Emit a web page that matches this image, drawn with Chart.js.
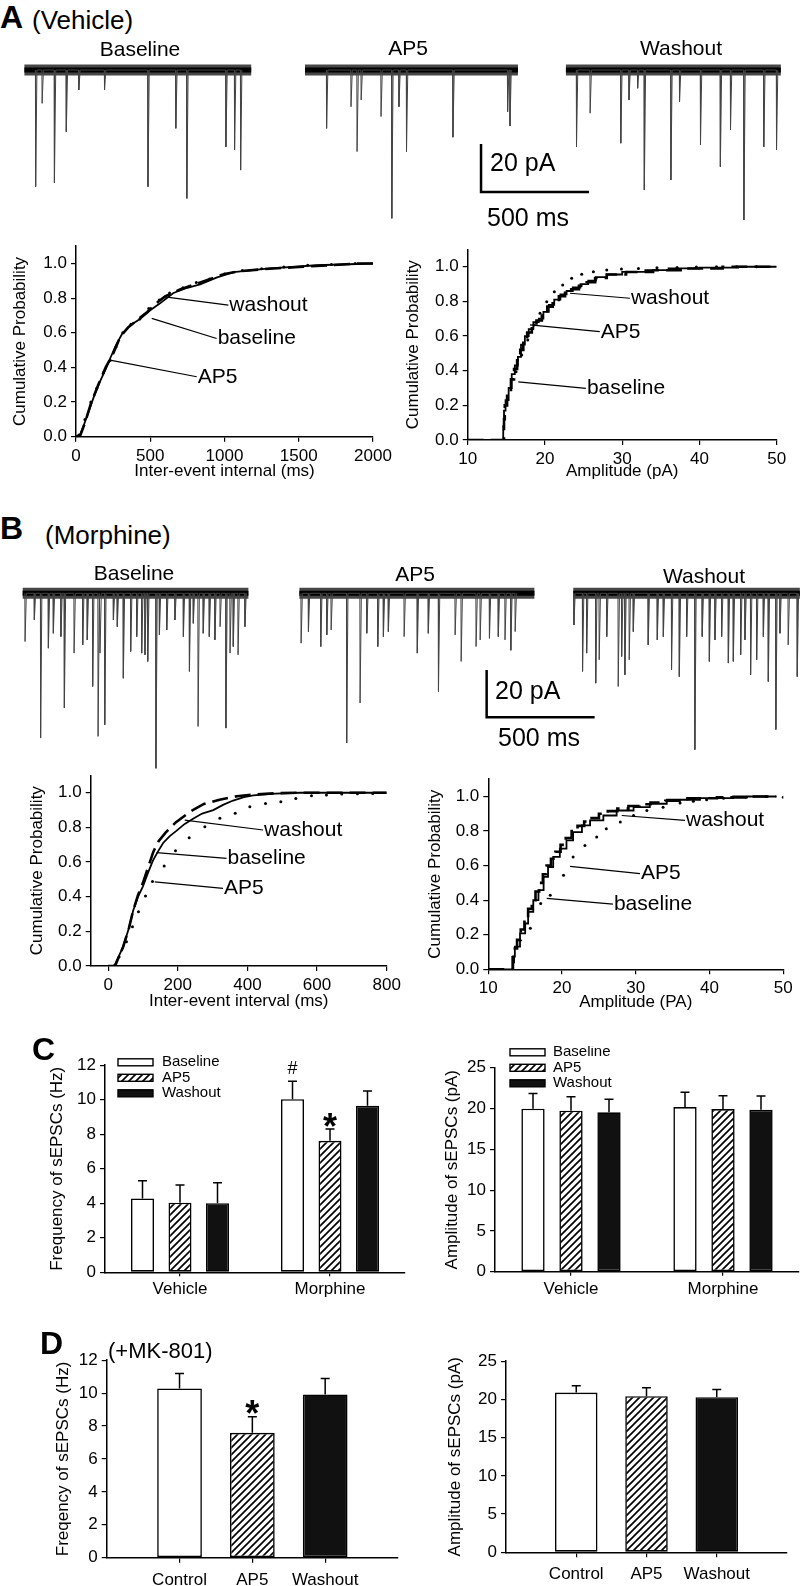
<!DOCTYPE html>
<html>
<head>
<meta charset="utf-8">
<script src="https://cdn.jsdelivr.net/npm/chart.js@4.4.1/dist/chart.umd.min.js"></script>
<style>
  html, body { margin: 0; padding: 0; background: #fff; }
  body { position: relative; width: 800px; height: 1586px; overflow: hidden;
         font-family: 'Liberation Sans', Arial, Helvetica, sans-serif; color: #000; }
  canvas { position: absolute; }
  .t { position: absolute; white-space: nowrap; line-height: 1; }
</style>
</head>
<body>
<canvas id="traceA"></canvas>
<canvas id="cumA1"></canvas>
<canvas id="cumA2"></canvas>
<canvas id="traceB"></canvas>
<canvas id="cumB1"></canvas>
<canvas id="cumB2"></canvas>
<canvas id="barC1"></canvas>
<canvas id="barC2"></canvas>
<canvas id="barD1"></canvas>
<canvas id="barD2"></canvas>
<script>
// ---------- data ----------

// sample sweeps: event time in the sweep (ms), amplitude (pA)
const sweepLabels = ['Baseline', 'AP5', 'Washout'];
const vehSweepMs = [1050, 986, 995];
const vehBaselineEvents = [[52, 48.6], [82, 13.9], [139, 47], [194, 25.7], [252, 8.3], [371, 8.3], [572, 48.6],
  [701, 24.3], [752, 53.5], [933, 32], [973, 33.3], [1001, 41.7]];
const vehAp5Events = [[100, 24.3], [213, 15.3], [241, 34], [260, 12.5], [352, 19.4], [402, 61.8], [435, 15.3],
  [470, 34], [685, 28], [938, 17.4], [949, 23.3]];
const vehWashEvents = [[49, 32], [112, 18], [254, 30.5], [292, 12.5], [332, 7.6], [363, 50], [486, 45.8],
  [526, 13.2], [623, 31.2], [715, 40.3], [762, 25], [824, 62.5], [916, 32], [975, 33.3]];

const morSweepMs = [1045, 1088, 1049];
const morBaselineEvents = [[11, 20.4], [54, 11.3], [83, 61.2], [119, 23.2], [142, 16.9], [177, 18.3], [193, 48.5],
  [238, 25.3], [278, 21.8], [299, 19.7], [324, 39.4], [349, 60.5], [358, 25.3], [380, 55.6], [420, 11.3],
  [438, 14.1], [466, 35.9], [500, 24.6], [528, 18.3], [551, 25.3], [566, 26], [579, 28.8], [617, 74],
  [633, 17.6], [667, 15.5], [705, 11.3], [744, 18.3], [772, 33], [790, 12.7], [812, 56.3], [836, 16.9],
  [864, 18.3], [890, 19.7], [914, 14.1], [941, 57], [960, 25.3], [975, 22.5], [997, 26], [1029, 14.1]];
const morAp5Events = [[8, 21.1], [42, 16.2], [99, 22.5], [127, 17.6], [147, 15.5], [219, 63.3], [281, 46.4],
  [312, 16.9], [363, 22.5], [389, 18.3], [412, 16.2], [485, 18.3], [546, 25.3], [597, 16.9], [644, 41.5],
  [721, 17.6], [749, 28.8], [818, 22.5], [837, 19.7], [880, 19], [921, 18.3], [952, 19.7], [979, 24.1], [999, 16.2]];
const morWashEvents = [[3, 13.4], [43, 33], [62, 25.3], [104, 38], [120, 28.1], [155, 18.3], [208, 39.4],
  [224, 26.7], [239, 34.5], [259, 28.1], [278, 16.2], [347, 21.8], [389, 19.7], [417, 18.3], [455, 32.3],
  [491, 35.2], [525, 18.3], [563, 66.1], [597, 18.3], [630, 28.8], [656, 19.7], [687, 18.3], [718, 29.5],
  [741, 28.8], [775, 26], [795, 19.7], [821, 34.5], [849, 28.1], [880, 18.3], [903, 37.3], [938, 57.6],
  [957, 16.9], [995, 21.8], [1037, 35.2]];

const scaleBarPA = 20;
const scaleBarMs = 500;

// cumulative distributions [x, probability]
const vehIntervalBaseline = [[0, 0], [25, 0], [27, 0.01], [50, 0.06], [83, 0.14], [120, 0.23], [162, 0.32],
  [200, 0.39], [229, 0.45], [270, 0.53], [308, 0.59], [360, 0.64], [431, 0.68], [500, 0.73], [566, 0.77],
  [656, 0.83], [750, 0.86], [836, 0.88], [950, 0.92], [1061, 0.95], [1285, 0.97], [1622, 0.99], [2000, 1.0]];
const vehIntervalAp5 = [[20, 0.01], [60, 0.1], [100, 0.2], [140, 0.28], [185, 0.37], [230, 0.44], [270, 0.52],
  [315, 0.6], [370, 0.65], [430, 0.68], [490, 0.74], [560, 0.79], [630, 0.83], [720, 0.86], [810, 0.89],
  [900, 0.91], [1000, 0.94], [1120, 0.96], [1250, 0.97], [1400, 0.98], [1560, 0.99], [1720, 0.995], [1880, 1.0]];
const vehIntervalWash = [[0, 0], [30, 0.01], [60, 0.08], [100, 0.19], [150, 0.3], [200, 0.4], [250, 0.48],
  [300, 0.58], [350, 0.63], [420, 0.68], [480, 0.72], [540, 0.77], [600, 0.81], [700, 0.85], [800, 0.88],
  [900, 0.91], [1000, 0.94], [1100, 0.955], [1300, 0.97], [1500, 0.98], [1700, 0.99], [1900, 1.0], [2000, 1.0]];

const vehAmpBaseline = [[10, 0], [14.6, 0], [14.7, 0.08], [14.9, 0.17], [15.3, 0.23], [15.7, 0.3], [16.1, 0.38],
  [16.5, 0.43], [16.9, 0.48], [17.4, 0.55], [17.9, 0.6], [18.5, 0.64], [19.2, 0.68], [19.8, 0.7], [20.5, 0.74],
  [21.2, 0.78], [22, 0.81], [22.8, 0.84], [23.6, 0.86], [24.6, 0.88], [25.6, 0.9], [26.6, 0.92], [28, 0.94],
  [30, 0.955], [33, 0.97], [36, 0.98], [40, 0.99], [45, 0.995], [50, 1.0]];
const vehAmpAp5 = [[16.26, 0.394], [16.99, 0.49], [17.77, 0.577], [18.59, 0.663], [19.36, 0.731], [20.23, 0.798],
  [21.22, 0.856], [22.3, 0.894], [23.46, 0.933], [24.76, 0.956], [26.27, 0.971], [28, 0.981], [29.9, 0.987],
  [32.1, 0.99], [34.5, 0.994], [37.1, 0.996], [39.6, 0.998], [42.2, 1.0], [44.8, 1.0], [47.4, 1.0]];
const vehAmpWash = [[10, 0], [14.7, 0], [14.8, 0.12], [15.1, 0.2], [15.6, 0.28], [16, 0.35], [16.4, 0.41],
  [16.8, 0.46], [17.2, 0.52], [17.7, 0.58], [18.3, 0.62], [18.9, 0.66], [19.6, 0.69], [20.3, 0.73], [21, 0.77],
  [21.8, 0.8], [22.6, 0.83], [23.4, 0.85], [24.4, 0.87], [25.4, 0.89], [26.5, 0.91], [28, 0.935], [30.5, 0.955],
  [34, 0.97], [38, 0.98], [43, 0.99], [50, 1.0]];

const morIntervalBaseline = [[0, 0], [15, 0], [20, 0.01], [43, 0.11], [60, 0.22], [72, 0.32], [86, 0.4],
  [100, 0.46], [115, 0.54], [129, 0.61], [143, 0.66], [158, 0.71], [177, 0.75], [196, 0.78], [220, 0.82],
  [244, 0.85], [270, 0.88], [302, 0.9], [330, 0.93], [359, 0.955], [390, 0.975], [417, 0.985], [480, 0.995],
  [551, 1.0], [800, 1.0]];
const morIntervalAp5 = [[31.6, 0.054], [52.7, 0.14], [69.9, 0.227], [87.2, 0.313], [107.3, 0.404], [127.4, 0.487],
  [161, 0.577], [193.5, 0.665], [232.8, 0.74], [277.8, 0.804], [321, 0.852], [365, 0.881], [407, 0.919],
  [452, 0.938], [496, 0.948], [539, 0.967], [584, 0.983], [627, 0.987], [671, 0.992], [716, 0.994], [760, 0.996]];
const morIntervalWash = [[0, 0], [18, 0], [22, 0.01], [43, 0.11], [60, 0.22], [72, 0.32], [86, 0.41],
  [100, 0.48], [115, 0.57], [130, 0.66], [145, 0.72], [165, 0.77], [195, 0.83], [235, 0.89], [275, 0.935],
  [320, 0.96], [370, 0.98], [420, 0.99], [480, 0.997], [550, 1.0], [800, 1.0]];

const morAmpBaseline = [[10, 0], [13.4, 0], [13.5, 0.04], [13.6, 0.073], [14.3, 0.131], [15, 0.208], [15.4, 0.265],
  [16.1, 0.333], [16.8, 0.4], [17.5, 0.458], [18.1, 0.535], [18.8, 0.592], [19.7, 0.65], [20.6, 0.698],
  [21.5, 0.746], [22.7, 0.794], [23.8, 0.833], [25.6, 0.862], [27.4, 0.89], [29.7, 0.919], [31.9, 0.938],
  [34.2, 0.958], [38.7, 0.981], [43.2, 0.99], [49.1, 1.0]];
const morAmpAp5 = [[15.7, 0.237], [17.1, 0.381], [18.4, 0.429], [20.2, 0.544], [21.5, 0.65], [23.1, 0.717],
  [24.7, 0.765], [26, 0.813], [27.9, 0.852], [29.7, 0.89], [31.5, 0.919], [33.7, 0.938], [36, 0.962],
  [37.8, 0.973], [39.6, 0.981], [41.9, 0.99], [45, 0.996], [47.7, 1.0], [50, 0.996]];
const morAmpWash = [[10, 0], [13.3, 0], [13.4, 0.07], [13.9, 0.12], [14.4, 0.17], [14.9, 0.23], [15.4, 0.29],
  [15.9, 0.35], [16.4, 0.4], [16.9, 0.45], [17.4, 0.5], [17.9, 0.55], [18.5, 0.6], [19.1, 0.64], [19.8, 0.68],
  [20.5, 0.72], [21.3, 0.76], [22.1, 0.8], [23, 0.83], [24, 0.855], [25, 0.875], [26.2, 0.9], [27.5, 0.915],
  [29, 0.93], [30.5, 0.945], [32, 0.955], [34, 0.965], [37, 0.975], [41, 0.99], [45, 0.995], [49, 1.0]];

const probTicks = [0, 0.2, 0.4, 0.6, 0.8, 1.0];
const vehIntervalTicks = [0, 500, 1000, 1500, 2000];
const morIntervalTicks = [0, 200, 400, 600, 800];
const ampTicks = [10, 20, 30, 40, 50];

// bar graphs: means and SEM (upper bar only)
const groupLabels = ['Vehicle', 'Morphine'];
const freqBaseline = [4.28, 10.03];
const freqBaselineErr = [1.03, 1.04];
const freqAp5 = [4.03, 7.62];
const freqAp5Err = [1.03, 0.68];
const freqWash = [4.0, 9.65];
const freqWashErr = [1.19, 0.86];
const ampBaseline = [19.98, 20.18];
const ampBaselineErr = [1.87, 1.8];
const ampAp5 = [19.73, 19.93];
const ampAp5Err = [1.72, 1.64];
const ampWash = [19.53, 19.85];
const ampWashErr = [1.59, 1.68];

const mkLabels = ['Control', 'AP5', 'Washout'];
const mkFreq = [10.28, 7.59, 9.92];
const mkFreqErr = [0.91, 0.97, 0.97];
const mkAmp = [20.9, 20.43, 20.3];
const mkAmpErr = [0.88, 1.09, 1.0];

// ---------- setup ----------
const FONT = "'Liberation Sans', Arial, Helvetica, sans-serif";
Chart.defaults.font.family = FONT;
Chart.defaults.color = '#000';
Chart.defaults.animation = false;
Chart.defaults.responsive = false;
Chart.defaults.events = [];
Chart.defaults.plugins.legend.display = false;
Chart.defaults.plugins.tooltip.enabled = false;

const texts = [
  ['A', 0, 16.5, 32, 700, 'l'],
  ['(Vehicle)', 32, 20, 26, 400, 'l'],
  ['Baseline', 140, 47.5, 21, 400, 'c'],
  ['AP5', 408, 47, 21, 400, 'c'],
  ['Washout', 681, 47, 21, 400, 'c'],
  ['20 pA', 490, 162, 25, 400, 'l'],
  ['500 ms', 487, 217, 25, 400, 'l'],
  ['B', 0, 527.5, 32, 700, 'l'],
  ['(Morphine)', 45, 535, 26, 400, 'l'],
  ['Baseline', 134, 572, 21, 400, 'c'],
  ['AP5', 415, 573, 21, 400, 'c'],
  ['Washout', 704, 575, 21, 400, 'c'],
  ['20 pA', 495, 690, 25, 400, 'l'],
  ['500 ms', 498, 737, 25, 400, 'l'],
  ['C', 32, 1049, 32, 700, 'l'],
  ['D', 40, 1342.5, 32, 700, 'l'],
  ['(+MK-801)', 108, 1351, 22, 400, 'l']
];
texts.forEach(([str, x, y, size, weight, anchor]) => {
  const el = document.createElement('div');
  el.className = 't';
  el.textContent = str;
  el.style.left = x + 'px';
  el.style.top = y + 'px';
  el.style.fontSize = size + 'px';
  el.style.fontWeight = weight;
  el.style.transform = anchor === 'c' ? 'translate(-50%, -50%)' : 'translate(0, -50%)';
  document.body.appendChild(el);
});

const placeCanvas = (id, left, top, right, bottom) => {
  const c = document.getElementById(id);
  c.width = right - left;
  c.height = bottom - top;
  c.style.left = left + 'px';
  c.style.top = top + 'px';
  return c;
};

const tickMarks = (len) => ({ display: true, drawOnChartArea: false, drawTicks: true, tickLength: len,
  color: '#000', lineWidth: 1.2 });
const axisBorder = { display: true, color: '#000', width: 1.5 };

// ---------- sweeps ----------
const pxPerMs = 0.216;

const buildTraces = (id, row, sweeps) => {
  const canvas = placeCanvas(id, 0, row.top, 800, row.bottom);
  const datasets = [];
  sweeps.forEach(({ start, length, events }) => {
    datasets.push({
      data: events.flatMap(([t, amp]) => [
        { x: start + t - 1, y: 0 }, { x: start + t, y: -amp }, { x: start + t + 6, y: 0 }
      ]),
      borderColor: '#444', borderWidth: 1, pointRadius: 0
    });
    // noise band: a soft outer layer and a dark core
    const band = [{ x: start, y: 0 }, { x: start + length, y: 0 }];
    datasets.push({ data: band, borderColor: 'rgba(0,0,0,0.72)', borderWidth: 11, pointRadius: 0 });
    datasets.push({ data: band, borderColor: '#000', borderWidth: 5, pointRadius: 0 });
  });
  const [bx, by] = row.barAt;
  datasets.push({
    data: [{ x: bx, y: by }, { x: bx, y: by - scaleBarPA }, { x: bx + scaleBarMs, y: by - scaleBarPA }],
    borderColor: '#000', borderWidth: 2.5, pointRadius: 0, borderJoinStyle: 'miter'
  });
  return new Chart(canvas, {
    type: 'line',
    data: { datasets },
    options: {
      layout: { padding: 0 },
      scales: {
        x: { type: 'linear', display: false, min: 0, max: 800 / pxPerMs },
        y: { display: false, max: (row.baseY - row.top) / row.pxPerPA, min: -(row.bottom - row.baseY) / row.pxPerPA }
      }
    }
  });
};

const sweepsOf = (starts, lengths, eventLists) =>
  eventLists.map((events, i) => ({ start: starts[i], length: lengths[i], events }));

buildTraces('traceA', { top: 40, bottom: 240, baseY: 70, pxPerPA: 2.4, barAt: [2227, -30.8] },
  sweepsOf([113, 1412, 2620], vehSweepMs, [vehBaselineEvents, vehAp5Events, vehWashEvents]));
buildTraces('traceB', { top: 560, bottom: 780, baseY: 593.3, pxPerPA: 2.365, barAt: [2253, -32.4] },
  sweepsOf([105, 1386, 2654], morSweepMs, [morBaselineEvents, morAp5Events, morWashEvents]));

// ---------- cumulative plots ----------
const curveLabels = (notes) => ({
  id: 'curveLabels',
  afterDatasetsDraw(chart) {
    const { ctx } = chart;
    const { x, y } = chart.scales;
    ctx.save();
    ctx.strokeStyle = '#000';
    ctx.fillStyle = '#000';
    ctx.lineWidth = 1.2;
    ctx.font = `21px ${FONT}`;
    ctx.textBaseline = 'middle';
    notes.forEach(({ text, from, to }) => {
      const x0 = x.getPixelForValue(from[0]), y0 = y.getPixelForValue(from[1]);
      const x1 = x.getPixelForValue(to[0]), y1 = y.getPixelForValue(to[1]);
      ctx.beginPath();
      ctx.moveTo(x0, y0);
      ctx.lineTo(x1, y1);
      ctx.stroke();
      ctx.fillText(text, x1 + 1, y1);
    });
    ctx.restore();
  }
});

const toXY = (pts) => pts.map(([x, y]) => ({ x, y }));

const cumSets = (baseline, ap5, wash, stepped) => [
  { label: 'baseline', data: toXY(baseline), borderColor: '#000', borderWidth: 1.8, pointRadius: 0,
    stepped: stepped ? 'after' : false },
  { label: 'washout', data: toXY(wash), borderColor: '#000', borderWidth: 2.6, borderDash: [16, 7],
    pointRadius: 0, stepped: stepped ? 'after' : false },
  { label: 'AP5', data: toXY(ap5), showLine: false, pointRadius: 1.5, pointBorderWidth: 0,
    pointBackgroundColor: '#000' }
];

const buildCumulative = (id, f, xAxis, datasets, notes) => {
  const left = Math.round(f.yTitleX - 10), top = Math.round(f.top - 14);
  const right = Math.round(f.right + 30), bottom = Math.round(f.xTitleY + 10);
  const canvas = placeCanvas(id, left, top, right, bottom);
  return new Chart(canvas, {
    type: 'line',
    data: { datasets },
    options: {
      layout: { padding: { top: f.top - top, right: right - f.right, left: 0, bottom: 0 } },
      scales: {
        x: {
          type: 'linear', min: xAxis.min, max: xAxis.max,
          afterFit: (s) => { s.height = bottom - f.bottom; },
          afterBuildTicks: (s) => { s.ticks = xAxis.ticks.map((value) => ({ value })); },
          ticks: { font: { size: 17 }, padding: 4, maxRotation: 0, autoSkip: false, callback: (v) => String(v) },
          grid: tickMarks(5), border: axisBorder,
          title: { display: true, text: xAxis.title, font: { size: 17 }, padding: 0 }
        },
        y: {
          min: 0, max: 1.1,
          afterFit: (s) => { s.width = f.left - left; },
          afterBuildTicks: (s) => { s.ticks = probTicks.map((value) => ({ value })); },
          ticks: { font: { size: 17 }, padding: 4, callback: (v) => Number(v).toFixed(1) },
          grid: tickMarks(5), border: axisBorder,
          title: { display: true, text: 'Cumulative Probability', font: { size: 17 }, padding: 0 }
        }
      }
    },
    plugins: [curveLabels(notes)]
  });
};

buildCumulative('cumA1', { left: 76, right: 373, top: 246, bottom: 436.7, yTitleX: 20, xTitleY: 471.7 },
  { min: 0, max: 2000, ticks: vehIntervalTicks, title: 'Inter-event internal (ms)' },
  cumSets(vehIntervalBaseline, vehIntervalAp5, vehIntervalWash, false),
  [{ text: 'washout', from: [599, 0.807], to: [1026, 0.76] },
   { text: 'baseline', from: [510, 0.683], to: [947, 0.567] },
   { text: 'AP5', from: [229, 0.442], to: [813, 0.346] }]);

buildCumulative('cumA2', { left: 467.7, right: 776.7, top: 249.4, bottom: 440, yTitleX: 413.3, xTitleY: 471.7 },
  { min: 10, max: 50, ticks: ampTicks, title: 'Amplitude (pA)' },
  cumSets(vehAmpBaseline, vehAmpAp5, vehAmpWash, true),
  [{ text: 'washout', from: [23.24, 0.847], to: [31.0, 0.818] },
   { text: 'AP5', from: [18.06, 0.664], to: [27.1, 0.625] },
   { text: 'baseline', from: [16.55, 0.336], to: [25.3, 0.298] }]);

buildCumulative('cumB1', { left: 90.7, right: 386.7, top: 775.4, bottom: 966, yTitleX: 36.7, xTitleY: 1002 },
  { min: -50, max: 800, ticks: morIntervalTicks, title: 'Inter-event interval (ms)' },
  cumSets(morIntervalBaseline, morIntervalAp5, morIntervalWash, false),
  [{ text: 'washout', from: [220, 0.842], to: [445, 0.785] },
   { text: 'baseline', from: [139, 0.654], to: [340, 0.621] },
   { text: 'AP5', from: [134, 0.486], to: [330, 0.448] }]);

buildCumulative('cumB2', { left: 488.3, right: 783.3, top: 778.7, bottom: 969.3, yTitleX: 435, xTitleY: 1003 },
  { min: 10, max: 50, ticks: ampTicks, title: 'Amplitude (PA)' },
  cumSets(morAmpBaseline, morAmpAp5, morAmpWash, true),
  [{ text: 'washout', from: [28.09, 0.89], to: [36.67, 0.862] },
   { text: 'AP5', from: [21.08, 0.596], to: [30.57, 0.554] },
   { text: 'baseline', from: [17.92, 0.41], to: [26.9, 0.377] }]);

// ---------- bar graphs ----------
const hatch = (() => {
  const s = 7;
  const tile = document.createElement('canvas');
  tile.width = s; tile.height = s;
  const c = tile.getContext('2d');
  c.fillStyle = '#fff';
  c.fillRect(0, 0, s, s);
  c.strokeStyle = '#000';
  c.lineWidth = 1.7;
  c.beginPath();
  c.moveTo(-1, s + 1); c.lineTo(s + 1, -1);
  c.moveTo(-1, 1); c.lineTo(1, -1);
  c.moveTo(s - 1, s + 1); c.lineTo(s + 1, s - 1);
  c.stroke();
  return document.createElement('canvas').getContext('2d').createPattern(tile, 'repeat');
})();

const errorBars = {
  id: 'errorBars',
  afterDatasetsDraw(chart) {
    const { ctx } = chart;
    const yScale = chart.scales.y;
    ctx.save();
    ctx.strokeStyle = '#000';
    ctx.lineWidth = 1.5;
    chart.data.datasets.forEach((ds, di) => {
      if (!ds.errors) return;
      chart.getDatasetMeta(di).data.forEach((bar, i) => {
        const v = ds.data[i], e = ds.errors[i];
        if (v == null || e == null) return;
        const yTop = yScale.getPixelForValue(v + e);
        ctx.beginPath();
        ctx.moveTo(bar.x, bar.y);
        ctx.lineTo(bar.x, yTop);
        ctx.moveTo(bar.x - 4.5, yTop);
        ctx.lineTo(bar.x + 4.5, yTop);
        ctx.stroke();
      });
    });
    ctx.restore();
  }
};

const barMarks = (marks) => ({
  id: 'barMarks',
  afterDatasetsDraw(chart) {
    const { ctx } = chart;
    ctx.save();
    ctx.fillStyle = '#000';
    ctx.textAlign = 'center';
    ctx.textBaseline = 'middle';
    marks.forEach(({ dataset, index, value, text, font }) => {
      const el = chart.getDatasetMeta(dataset).data[index];
      ctx.font = `${font} ${FONT}`;
      ctx.fillText(text, el.x, chart.scales.y.getPixelForValue(value));
    });
    ctx.restore();
  }
});

const boxLegend = (pos) => ({
  id: 'boxLegend',
  afterDraw(chart) {
    const { ctx } = chart;
    const ox = chart.canvas.offsetLeft, oy = chart.canvas.offsetTop;
    ctx.save();
    chart.data.datasets.forEach((ds, i) => {
      const bx = pos.x - ox, cy = pos.y + i * pos.dy - oy;
      ctx.fillStyle = ds.backgroundColor;
      ctx.fillRect(bx, cy - 3.5, 35, 7);
      ctx.strokeStyle = '#000';
      ctx.lineWidth = 1.4;
      ctx.strokeRect(bx, cy - 3.5, 35, 7);
      ctx.fillStyle = '#000';
      ctx.font = `15px ${FONT}`;
      ctx.textBaseline = 'middle';
      ctx.fillText(ds.label, bx + pos.textGap, cy);
    });
    ctx.restore();
  }
});

const barStyle = { borderColor: '#000', borderWidth: 1.6, borderSkipped: false };

const buildBars = (id, f, labels, datasets, yAxis, xTick, plugins) => {
  const left = Math.round(f.yTitleX - 10), top = Math.round(f.top - f.padTop);
  const right = Math.round(f.right + f.padRight), bottom = Math.round(f.bottom + 32);
  const canvas = placeCanvas(id, left, top, right, bottom);
  const yTicks = [];
  for (let v = 0; v <= yAxis.max; v += yAxis.step) yTicks.push(v);
  return new Chart(canvas, {
    type: 'bar',
    data: { labels, datasets },
    options: {
      layout: { padding: { top: f.top - top, right: right - f.right, left: 0, bottom: 0 } },
      datasets: { bar: { categoryPercentage: f.catPct, barPercentage: f.barPct } },
      scales: {
        x: {
          offset: f.offset,
          afterFit: (s) => { s.height = bottom - f.bottom; },
          ticks: { font: { size: 17 }, padding: xTick.padding, maxRotation: 0, autoSkip: false },
          grid: { ...tickMarks(xTick.length), offset: false,
            color: (c) => (labels[c.index] ? '#000' : 'rgba(0,0,0,0)') },
          border: axisBorder
        },
        y: {
          min: 0, max: yAxis.max,
          afterFit: (s) => { s.width = f.left - left; },
          afterBuildTicks: (s) => { s.ticks = yTicks.map((value) => ({ value })); },
          ticks: { font: { size: 17 }, padding: 4 },
          grid: tickMarks(5), border: axisBorder,
          title: { display: true, text: yAxis.title, font: { size: 17 }, padding: 0 }
        }
      }
    },
    plugins: [errorBars, ...plugins]
  });
};

const groupSets = (b, be, a, ae, w, we) => [
  { label: 'Baseline', data: b, errors: be, backgroundColor: '#fff', ...barStyle },
  { label: 'AP5', data: a, errors: ae, backgroundColor: hatch, ...barStyle },
  { label: 'Washout', data: w, errors: we, backgroundColor: '#111', ...barStyle }
];

buildBars('barC1',
  { left: 105, right: 405, top: 1065, bottom: 1272.3, yTitleX: 56.7, padTop: 14, padRight: 5,
    catPct: 0.75, barPct: 0.613, offset: true },
  groupLabels, groupSets(freqBaseline, freqBaselineErr, freqAp5, freqAp5Err, freqWash, freqWashErr),
  { max: 12, step: 2, title: 'Frequency of sEPSCs (Hz)' }, { length: 4, padding: 3 },
  [boxLegend({ x: 118, y: 1062.3, dy: 15.5, textGap: 44 }),
   barMarks([{ dataset: 0, index: 1, value: 11.8, text: '#', font: '18px' },
             { dataset: 1, index: 1, value: 8.3, text: '*', font: 'bold 36px' }])]);

buildBars('barC2',
  { left: 495, right: 799, top: 1067.7, bottom: 1271.7, yTitleX: 451.7, padTop: 22, padRight: 1,
    catPct: 0.75, barPct: 0.613, offset: true },
  groupLabels, groupSets(ampBaseline, ampBaselineErr, ampAp5, ampAp5Err, ampWash, ampWashErr),
  { max: 25, step: 5, title: 'Amplitude of sEPSCs (pA)' }, { length: 4, padding: 3 },
  [boxLegend({ x: 510, y: 1052.3, dy: 15.5, textGap: 43 })]);

// panel D: three bars on a five-slot axis so they sit where the figure has them
const slotLabels = ['', ...mkLabels, ''];
const slot = (arr) => [null, ...arr, null];
const mkFills = ['#fff', '#fff', hatch, '#111', '#fff'];

buildBars('barD1',
  { left: 106.7, right: 400, top: 1360, bottom: 1557.7, yTitleX: 63, padTop: 14, padRight: 5,
    catPct: 1, barPct: 0.614, offset: false },
  slotLabels, [{ label: 'MK-801', data: slot(mkFreq), errors: slot(mkFreqErr), backgroundColor: mkFills, ...barStyle }],
  { max: 12, step: 2, title: 'Freqency of sEPSCs (Hz)' }, { length: 5, padding: 7 },
  [barMarks([{ dataset: 0, index: 2, value: 8.62, text: '*', font: 'bold 36px' }])]);

buildBars('barD2',
  { left: 506, right: 787, top: 1361, bottom: 1552.3, yTitleX: 455, padTop: 14, padRight: 10,
    catPct: 1, barPct: 0.605, offset: false },
  slotLabels, [{ label: 'MK-801', data: slot(mkAmp), errors: slot(mkAmpErr), backgroundColor: mkFills, ...barStyle }],
  { max: 25, step: 5, title: 'Amplitude of sEPSCs (pA)' }, { length: 5, padding: 7 },
  []);
</script>
</body>
</html>
